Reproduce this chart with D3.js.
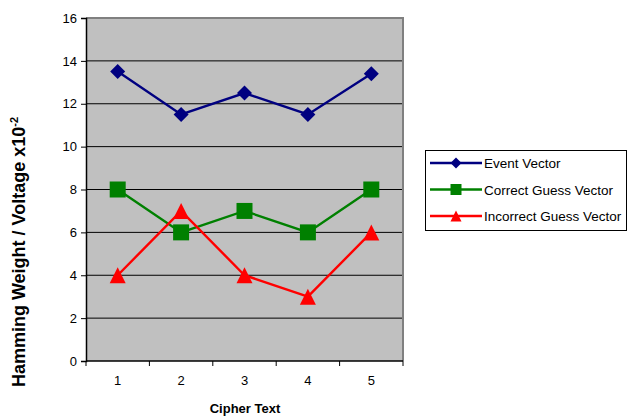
<!DOCTYPE html>
<html><head><meta charset="utf-8">
<script src="https://cdn.jsdelivr.net/npm/d3@7"></script>
<style>body{margin:0;background:#fff}svg{display:block;font-family:"Liberation Sans",Arial,sans-serif}</style>
</head><body><svg id="c" width="627" height="416"></svg>
<script>
const categories = ["1","2","3","4","5"];
const eventVector = [13.5, 11.5, 12.5, 11.5, 13.4];
const correctGuess = [8, 6, 7, 6, 8];
const incorrectGuess = [4, 7, 4, 3, 6];
const yTicks = [0,2,4,6,8,10,12,14,16];
const seriesNames = ["Event Vector","Correct Guess Vector","Incorrect Guess Vector"];
const seriesColors = ["#000080","#008000","#FF0000"];

const svg = d3.select("#c");
const L=86, R=403, T=18, B=361;
const x = d3.scaleBand().domain(categories).range([L,R]);
const y = d3.scaleLinear().domain([0,16]).range([B,T]);

function marker(k, s){
  if(k===0) return `M0,${-s}L${s},0L0,${s}L${-s},0Z`;
  if(k===1) return `M${-s},${-s}H${s}V${s}H${-s}Z`;
  return `M0,${-s}L${s},${s}H${-s}Z`;
}

svg.append("rect").attr("x",L).attr("y",T).attr("width",R-L).attr("height",B-T).attr("fill","#C0C0C0");
svg.append("g").selectAll("line").data(yTicks.filter(v=>v>0&&v<16)).join("line")
  .attr("x1",L).attr("x2",R).attr("y1",d=>y(d)).attr("y2",d=>y(d)).attr("stroke","#000").attr("stroke-width",1);
svg.append("line").attr("x1",L).attr("x2",R+1).attr("y1",T).attr("y2",T).attr("stroke","#808080").attr("stroke-width",2);
svg.append("line").attr("x1",R).attr("x2",R).attr("y1",T).attr("y2",B).attr("stroke","#808080").attr("stroke-width",2);

const yAxis = d3.axisLeft(y).tickValues(yTicks).tickSize(5).tickPadding(4);
const gy = svg.append("g").attr("transform",`translate(${L},0)`).call(yAxis);
const xAxis = d3.axisBottom(x).tickSize(0).tickPadding(15);
const gx = svg.append("g").attr("transform",`translate(0,${B})`).call(xAxis);
svg.append("g").selectAll("line").data(categories.map(c=>x(c)).concat([R])).join("line")
  .attr("x1",d=>d).attr("x2",d=>d).attr("y1",B).attr("y2",B+5).attr("stroke","#000");
[gy,gx].forEach(g=>{
  g.select(".domain").attr("stroke","#000").attr("stroke-width",1.5);
  g.selectAll(".tick line").attr("stroke","#000");
  g.selectAll("text").attr("font-size",13).attr("fill","#000").attr("font-family","Liberation Sans, Arial, sans-serif");
});
gx.select(".domain").attr("d",`M${L},0H${R}`);

const allSeries = [eventVector, correctGuess, incorrectGuess];
const line = d3.line().x((d,i)=>x(categories[i])+x.bandwidth()/2).y(d=>y(d));
allSeries.forEach((s,k)=>{
  svg.append("path").datum(s).attr("d",line).attr("fill","none").attr("stroke",seriesColors[k]).attr("stroke-width",2.4);
  svg.append("g").selectAll("path").data(s).join("path")
    .attr("transform",(d,i)=>`translate(${x(categories[i])+x.bandwidth()/2},${y(d)})`)
    .attr("d",marker(k,k===0?7.5:8)).attr("fill",seriesColors[k]);
});

svg.append("rect").attr("x",425.5).attr("y",150.5).attr("width",201).attr("height",80).attr("fill","#fff").attr("stroke","#000").attr("stroke-width",1);
seriesNames.forEach((n,k)=>{
  const yy = 163 + k*26.5;
  svg.append("line").attr("x1",430).attr("x2",482).attr("y1",yy).attr("y2",yy).attr("stroke",seriesColors[k]).attr("stroke-width",2.4);
  svg.append("path").attr("transform",`translate(456,${yy})`).attr("d",marker(k,5.5)).attr("fill",seriesColors[k]);
  svg.append("text").attr("x",484).attr("y",yy+5).attr("font-size",13.5).attr("fill","#000").text(n);
});

svg.append("text").attr("x",245).attr("y",413).attr("text-anchor","middle").attr("font-weight","bold").attr("font-size",13).text("Cipher Text");
const yt = svg.append("text").attr("transform","translate(25,252) rotate(-90)").attr("text-anchor","middle").attr("font-weight","bold").attr("font-size",18);
yt.append("tspan").text("Hamming Weight / Voltage x10");
yt.append("tspan").attr("dy",-7).attr("font-size",11).text("-2");
</script></body></html>
